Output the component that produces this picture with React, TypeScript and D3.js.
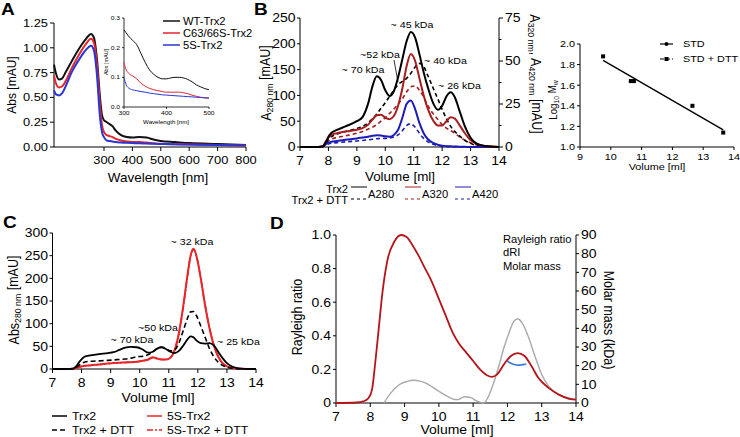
import React from "react";
import * as d3 from "d3";

// ---------- Panel A data ----------
const aWl = [250,252,255,258,262,268,275,282,287,290,293,296,298,300,310,320,330,340,360,380,400,425,450,475,500,550,600,700,800];
const aWT = [0.83,0.74,0.68,0.69,0.76,0.87,0.99,1.09,1.14,1.1,0.88,0.5,0.32,0.27,0.25,0.23,0.21,0.17,0.12,0.1,0.095,0.1,0.095,0.075,0.06,0.05,0.04,0.03,0.02];
const aC63 = [0.72,0.64,0.6,0.61,0.67,0.8,0.93,1.04,1.09,1.05,0.82,0.42,0.22,0.15,0.12,0.11,0.1,0.085,0.065,0.055,0.05,0.05,0.045,0.038,0.032,0.028,0.025,0.02,0.015];
const a5S = [0.57,0.53,0.52,0.54,0.62,0.76,0.88,0.98,1.02,0.97,0.72,0.3,0.15,0.1,0.065,0.06,0.055,0.05,0.045,0.042,0.04,0.037,0.035,0.032,0.03,0.027,0.025,0.02,0.015];
const aYTicks = [0, 0.25, 0.5, 0.75, 1.0, 1.25];
const aXTicks = [300, 400, 500, 600, 700, 800];
const aLegend = ["WT-Trx2", "C63/66S-Trx2", "5S-Trx2"];

const inWl = [300,305,310,320,330,340,350,360,370,380,390,400,410,420,430,440,450,460,470,480,490,500];
const inWT = [0.26,0.25,0.24,0.225,0.21,0.18,0.15,0.125,0.11,0.1,0.095,0.095,0.098,0.1,0.1,0.098,0.093,0.085,0.075,0.068,0.062,0.058];
const inC63 = [0.15,0.125,0.115,0.105,0.095,0.08,0.07,0.063,0.058,0.055,0.052,0.05,0.05,0.05,0.05,0.048,0.045,0.04,0.036,0.033,0.031,0.03];
const in5S = [0.1,0.075,0.065,0.058,0.055,0.052,0.05,0.047,0.045,0.043,0.041,0.04,0.039,0.038,0.037,0.036,0.035,0.034,0.033,0.032,0.031,0.03];
const inYTicks = [0, 0.1, 0.2, 0.3];
const inXTicks = [300, 400, 500];

// ---------- Panel B data ----------
const bVol = [7,7.5,7.8,7.9,8.0,8.1,8.3,8.6,9.0,9.2,9.4,9.55,9.7,9.85,10.0,10.15,10.3,10.45,10.6,10.75,10.9,11.05,11.2,11.35,11.5,11.7,11.85,12.0,12.15,12.3,12.45,12.6,12.8,13.0,13.2,13.5,14];
const bA280 = [0,0,1,8,20,27,33,40,50,58,85,118,137,130,110,99,108,135,170,205,223,212,180,145,115,83,72,80,98,106,96,72,40,18,7,2,0];
const bA280DTT = [0,0,1,6,15,20,25,30,36,40,47,55,64,75,86,98,110,121,127,133,143,155,162,156,138,112,93,73,55,40,30,22,13,7,3,1,0];
const bA320 = [0,0,0.5,3,5.5,7,8,9,10,11,13,16,18.5,18.8,17,16.2,18,24,34,47,54,50,40,30,22,15,12.5,12.5,15,17.3,16.5,13,8,4,2,0.6,0];
const bA320DTT = [0,0,0.3,2,3.5,4.5,5.5,6.5,8,9,10.5,11.5,13,15,17,19.5,22,25,28,32,35,35.5,33,29,24,19,16,13,11,9.5,8,6,4,2.5,1.2,0.4,0];
const bA420 = [0,0,0.3,1.5,2.5,3,3.5,4.2,5,5.5,6,6.5,6.8,6.7,6.2,6,7,10,17,25,27,22,14,8,4.5,2.2,1.3,0.8,0.5,0.4,0.3,0.2,0.1,0,0,0,0];
const bA420DTT = [0,0,0.2,1,1.8,2.2,2.5,3,3.5,3.8,4.2,4.5,4.8,5,5,5.2,5.8,7,9.5,12.5,13.5,11.5,8,5,3,1.5,0.9,0.5,0.3,0.2,0.1,0.1,0,0,0,0,0];
const bXTicks = [7,8,9,10,11,12,13,14];
const bYTicks = [0,50,100,150,200,250];
const bY2Ticks = [0,25,50,75];
const bY2Minor = [12.5,37.5,62.5];
const bAnnot = ["~ 45 kDa", "~52 kDa", "~ 40 kDa", "~ 70 kDa", "~ 26 kDa"];

// ---------- Standard curve ----------
const stdVol = [9.75, 10.65, 10.75, 12.65, 13.65];
const stdLog = [1.88, 1.64, 1.64, 1.40, 1.14];
const stdXTicks = [9,10,11,12,13,14];
const stdYTicks = [1.0,1.2,1.4,1.6,1.8,2.0];

// ---------- Panel C data ----------
const cVol = [7,7.5,7.7,7.8,7.95,8.1,8.3,8.6,8.9,9.1,9.3,9.5,9.7,9.9,10.1,10.3,10.45,10.6,10.75,10.9,11.05,11.2,11.35,11.5,11.65,11.75,11.85,11.95,12.1,12.25,12.4,12.55,12.7,12.85,13.0,13.2,13.5,14];
const cTrx2 = [0,0,1,5,18,27,30,33,35,37,42,47,49,48,43,36,38,45,48,44,38,35,40,52,66,72,70,63,57,56,57,52,38,24,13,5,1,0];
const cTrx2DTT = [0,0,0.5,3,10,15,17,18,19,20,21,22,24,27,28,32,38,45,48,45,40,42,58,85,113,126,127,118,95,70,45,27,15,8,4,1.5,0.3,0];
const c5S = [0,0,0.5,2,5,7,8,10,12,13,14,14.5,15,16,18,21,26,23,21,21,25,42,80,140,210,250,265,250,200,140,90,52,27,13,6,2.5,0.5,0];
const c5SDTT = [0,0,0.5,2,5,7,8,10,12,13,14,14.5,15,16,18,21,25,23,21,21,24,41,78,138,208,249,263,249,200,141,91,53,28,13,6,2.5,0.5,0];
const cXTicks = [7,8,9,10,11,12,13,14];
const cYTicks = [0,50,100,150,200,250,300];
const cLegend = ["Trx2", "Trx2 + DTT", "5S-Trx2", "5S-Trx2 + DTT"];

// ---------- Panel D data ----------
const dVol = [7,7.6,7.8,7.95,8.05,8.15,8.25,8.35,8.5,8.7,8.9,9.05,9.2,9.4,9.6,9.8,10.0,10.2,10.4,10.6,10.8,11.0,11.2,11.4,11.55,11.7,11.9,12.1,12.3,12.5,12.7,12.9,13.2,13.5,13.8,14];
const dRayleigh = [0,0.003,0.01,0.03,0.08,0.25,0.45,0.65,0.85,0.96,1.0,0.99,0.95,0.88,0.8,0.72,0.62,0.52,0.42,0.35,0.3,0.25,0.2,0.165,0.155,0.17,0.23,0.28,0.297,0.28,0.22,0.15,0.09,0.05,0.025,0.02];
const dRIVol = [8.4,8.6,8.85,9.1,9.25,9.45,9.65,9.85,10.0,10.2,10.4,10.55,10.75,10.95,11.1,11.3,11.45,11.6,11.75,11.9,12.05,12.2,12.3,12.45,12.6,12.8,13.0,13.2,13.5,13.8,14];
const dRI = [0,0.06,0.11,0.13,0.135,0.13,0.115,0.09,0.07,0.045,0.025,0.02,0.037,0.03,0.012,0,0.04,0.12,0.22,0.33,0.42,0.49,0.5,0.47,0.4,0.28,0.17,0.1,0.05,0.03,0.02];
const dMMVol = [12.0,12.1,12.2,12.3,12.4,12.5,12.55];
const dMM = [22.5,21.3,20.6,20.3,20.4,20.7,20.9];
const dXTicks = [7,8,9,10,11,12,13,14];
const dYTicks = [0,0.2,0.4,0.6,0.8,1.0];
const dY2Ticks = [0,10,20,30,40,50,60,70,80,90];
const dLegend = ["Rayleigh ratio", "dRI", "Molar mass"];

const FONT = "'Liberation Sans', Arial, Helvetica, sans-serif";
const SX = 1.12;

type TP = { x: number; y: number; rot?: number; size: number; anchor?: string; weight?: string; fill?: string; children?: any; dy?: string; sx?: number };
const T = ({ x, y, rot = 0, size, anchor = "start", weight, fill = "#000", children, dy = "0.35em", sx = SX }: TP) => (
  <text
    transform={`translate(${x},${y}) rotate(${rot}) scale(${rot === 0 ? sx : 1},${rot === 0 ? 1 : sx})`}
    fontSize={size}
    textAnchor={anchor}
    fontWeight={weight}
    fill={fill}
    dy={dy}
    fontFamily={FONT}
  >
    {children}
  </text>
);

const lineGen = (xs: number[], ys: number[], sx: any, sy: any, curve: any = d3.curveMonotoneX) =>
  d3.line<number>().x((_, i) => sx(xs[i])).y((d) => sy(d)).curve(curve)(ys) || "";

function YAxis({ scale, x, ticks, fmt, size, len = 4, side = "left", minor = [] as number[], sw = 1, gap = 2 }: any) {
  const r = scale.range();
  const dir = side === "left" ? -1 : 1;
  return (
    <g>
      <line x1={x} x2={x} y1={r[0]} y2={r[1]} stroke="#000" strokeWidth={sw} />
      {ticks.map((t: number) => (
        <g key={t}>
          <line x1={x} x2={x + dir * len} y1={scale(t)} y2={scale(t)} stroke="#000" strokeWidth={sw} />
          <T x={x + dir * (len + gap)} y={scale(t)} size={size} anchor={side === "left" ? "end" : "start"}>{fmt(t)}</T>
        </g>
      ))}
      {minor.map((t: number) => (
        <line key={"m" + t} x1={x} x2={x + dir * len * 0.6} y1={scale(t)} y2={scale(t)} stroke="#000" strokeWidth={sw} />
      ))}
    </g>
  );
}

function XAxis({ scale, y, ticks, fmt, size, len = 4, x0, x1, sw = 1, gap = 5 }: any) {
  const r = scale.range();
  return (
    <g>
      <line x1={x0 ?? r[0]} x2={x1 ?? r[r.length - 1]} y1={y} y2={y} stroke="#000" strokeWidth={sw} />
      {ticks.map((t: number) => (
        <g key={t}>
          <line x1={scale(t)} x2={scale(t)} y1={y} y2={y + len} stroke="#000" strokeWidth={sw} />
          <T x={scale(t)} y={y + len + gap} size={size} anchor="middle" dy="0.75em">{fmt(t)}</T>
        </g>
      ))}
    </g>
  );
}

export default function App() {
  // Panel A scales
  const ax = d3.scaleLinear().domain([250, 300, 800]).range([54, 104, 246]);
  const ay = d3.scaleLinear().domain([0, 1.25]).range([147, 23]);
  const ix = d3.scaleLinear().domain([300, 500]).range([124, 209]);
  const iy = d3.scaleLinear().domain([0, 0.3]).range([107, 18]);
  const aCols = ["#111111", "#e3262b", "#2a35d6"];

  // Panel B
  const bx = d3.scaleLinear().domain([7, 14]).range([300, 499]);
  const by = d3.scaleLinear().domain([0, 250]).range([147, 18]);
  const by2 = d3.scaleLinear().domain([0, 75]).range([147, 18]);
  const bBlack = "#000000", bRed = "#a81e1e", bBlue = "#1c1cb8";

  // Std curve
  const sx = d3.scaleLinear().domain([9, 14]).range([580, 734]);
  const sy = d3.scaleLinear().domain([1.0, 2.0]).range([147, 44]);
  const mx = d3.mean(stdVol)!, my = d3.mean(stdLog)!;
  const slope = d3.sum(stdVol.map((v, i) => (v - mx) * (stdLog[i] - my))) / d3.sum(stdVol.map((v) => (v - mx) ** 2));
  const fit = (v: number) => my + slope * (v - mx);
  const fx0 = stdVol[0], fx1 = stdVol[stdVol.length - 1];

  // Panel C
  const cx = d3.scaleLinear().domain([7, 14]).range([52.5, 256]);
  const cy = d3.scaleLinear().domain([0, 300]).range([369, 233]);
  const cRed = "#e8262a";

  // Panel D
  const dx = d3.scaleLinear().domain([7, 14]).range([336, 576]);
  const dy = d3.scaleLinear().domain([0, 1]).range([403, 235]);
  const dy2 = d3.scaleLinear().domain([0, 90]).range([403, 235]);

  const f2 = (v: number) => v.toFixed(2);
  const f1 = (v: number) => v.toFixed(1);
  const f0 = (v: number) => String(v);
  const fD = (v: number) => (v === 0 ? "0" : v.toFixed(1));

  const sub = (t: string, size: number) => (
    <tspan fontSize={size * 0.7} dy="0.25em">{t}</tspan>
  );

  return (
    <svg width={740} height={437} style={{ position: "absolute", left: 0, top: 0, background: "#fff" }} fontFamily={FONT}>
      <rect width={740} height={437} fill="#fff" />

      {/* ================= Panel A ================= */}
      <T x={1} y={9} size={17} weight="bold">A</T>
      <YAxis scale={ay} x={54} ticks={aYTicks} fmt={f2} size={11.5} />
      <XAxis scale={ax} y={147} ticks={aXTicks} fmt={f0} size={11.5} x0={54} x1={246} gap={4.5} />
      <T x={11} y={85} rot={-90} size={12} anchor="middle">Abs [mAU]</T>
      <T x={158} y={178} size={12} anchor="middle">Wavelength [nm]</T>
      {[aWT, aC63, a5S].map((s, k) => (
        <path key={k} d={lineGen(aWl, s, ax, ay)} fill="none" stroke={aCols[k]} strokeWidth={2} />
      ))}
      {/* inset */}
      <YAxis scale={iy} x={124} ticks={inYTicks} fmt={f1} size={6} len={2} sw={0.8} />
      <XAxis scale={ix} y={107} ticks={inXTicks} fmt={f0} size={6} len={2} sw={0.8} gap={1} />
      <T x={106} y={62} rot={-90} size={5.5} anchor="middle">Abs [mAU]</T>
      <T x={166} y={122} size={5.5} anchor="middle">Wavelength [nm]</T>
      {[inWT, inC63, in5S].map((s, k) => (
        <path key={k} d={lineGen(inWl, s, ix, iy)} fill="none" stroke={aCols[k]} strokeWidth={1} />
      ))}
      {aLegend.map((l, k) => (
        <g key={l}>
          <line x1={163} x2={180} y1={21 + k * 12} y2={21 + k * 12} stroke={aCols[k]} strokeWidth={1.5} />
          <T x={183} y={21 + k * 12} size={10}>{l}</T>
        </g>
      ))}

      {/* ================= Panel B ================= */}
      <T x={254} y={9} size={17} weight="bold">B</T>
      <YAxis scale={by} x={300} ticks={bYTicks} fmt={f0} size={12.5} len={3} gap={1.5} />
      <YAxis scale={by2} x={499} ticks={bY2Ticks} fmt={f0} size={12.5} side="right" minor={bY2Minor} />
      <XAxis scale={bx} y={147} ticks={bXTicks} fmt={f0} size={12.5} />
      <text transform={`translate(266,83) rotate(-90) scale(1,${SX})`} fontSize={12.5} textAnchor="middle" dy="0.35em">
        A{sub("280 nm", 12.5)}<tspan dy="-0.25em"> [mAU]</tspan>
      </text>
      <text transform={`translate(535,74) rotate(90) scale(1,${SX})`} fontSize={12.5} textAnchor="middle" dy="0.35em">
        A{sub("320 nm", 12.5)}<tspan dy="-0.25em">, A</tspan>{sub("420 nm", 12.5)}<tspan dy="-0.25em"> [mAU]</tspan>
      </text>
      <T x={400} y={177} size={12} anchor="middle">Volume [ml]</T>
      <path d={lineGen(bVol, bA420DTT, bx, by2)} fill="none" stroke={bBlue} strokeWidth={1.6} strokeDasharray="4,3" />
      <path d={lineGen(bVol, bA320DTT, bx, by2)} fill="none" stroke={bRed} strokeWidth={1.6} strokeDasharray="4,3" />
      <path d={lineGen(bVol, bA280DTT, bx, by)} fill="none" stroke={bBlack} strokeWidth={1.6} strokeDasharray="4,3" />
      <path d={lineGen(bVol, bA420, bx, by2)} fill="none" stroke={bBlue} strokeWidth={2} />
      <path d={lineGen(bVol, bA320, bx, by2)} fill="none" stroke={bRed} strokeWidth={2} />
      <path d={lineGen(bVol, bA280, bx, by)} fill="none" stroke={bBlack} strokeWidth={2} />
      <T x={412} y={25} size={9.5} anchor="middle">{bAnnot[0]}</T>
      <T x={380} y={55} size={9.5} anchor="middle">{bAnnot[1]}</T>
      <line x1={394} x2={398} y1={60} y2={82} stroke="#000" strokeWidth={0.8} />
      <T x={424} y={61} size={9.5}>{bAnnot[2]}</T>
      <T x={363} y={70} size={9.5} anchor="middle">{bAnnot[3]}</T>
      <T x={438} y={86} size={9.5}>{bAnnot[4]}</T>
      {/* legend B */}
      <T x={348} y={189} size={10} anchor="end">Trx2</T>
      <T x={348} y={200} size={10} anchor="end">Trx2 + DTT</T>
      {[[351, bBlack, "A280"], [405, bRed, "A320"], [455, bBlue, "A420"]].map(([x, c, l]: any) => (
        <g key={l}>
          <line x1={x} x2={x + 16} y1={187} y2={187} stroke={c} strokeWidth={1} />
          <line x1={x} x2={x + 16} y1={199} y2={199} stroke={c} strokeWidth={1} strokeDasharray="3,3" />
          <T x={x + 17} y={194} size={10}>{l}</T>
        </g>
      ))}

      {/* ================= Std curve ================= */}
      <YAxis scale={sy} x={580} ticks={stdYTicks} fmt={f1} size={9.7} len={3} gap={2} />
      <XAxis scale={sx} y={147} ticks={stdXTicks} fmt={f0} size={9.7} len={3} gap={3} />
      <text transform={`translate(553,100) rotate(-90) scale(1,${SX})`} fontSize={9.7} textAnchor="middle" dy="0.35em">
        Log{sub("10", 9.7)}<tspan dy="-0.25em"> M</tspan>{sub("w", 9.7)}
      </text>
      <T x={657} y={167} size={9.7} anchor="middle">Volume [ml]</T>
      <line x1={sx(fx0)} x2={sx(fx1)} y1={sy(fit(fx0))} y2={sy(fit(fx1))} stroke="#000" strokeWidth={1.4} />
      {stdVol.map((v, i) => (
        <rect key={i} x={sx(v) - 2} y={sy(stdLog[i]) - 2} width={4} height={4} fill="#000" />
      ))}
      <line x1={660} x2={673} y1={44} y2={44} stroke="#000" strokeWidth={1.2} />
      <circle cx={666.5} cy={44} r={2} fill="#000" />
      <T x={683} y={44} size={9.7}>STD</T>
      <line x1={660} x2={673} y1={59} y2={59} stroke="#000" strokeWidth={1.2} strokeDasharray="4,2" />
      <rect x={664.5} y={57} width={4} height={4} fill="#000" />
      <T x={683} y={59} size={9.7}>STD + DTT</T>

      {/* ================= Panel C ================= */}
      <T x={3} y={222} size={17} weight="bold">C</T>
      <YAxis scale={cy} x={52.5} ticks={cYTicks} fmt={f0} size={12.5} len={3} gap={1.5} />
      <XAxis scale={cx} y={369} ticks={cXTicks} fmt={f0} size={12.5} />
      <text transform={`translate(14,300) rotate(-90) scale(1,${SX})`} fontSize={12.5} textAnchor="middle" dy="0.35em">
        Abs{sub("280 nm", 12.5)}<tspan dy="-0.25em"> [mAU]</tspan>
      </text>
      <T x={158} y={398} size={12.5} anchor="middle">Volume [ml]</T>
      <path d={lineGen(cVol, c5SDTT, cx, cy)} fill="none" stroke={cRed} strokeWidth={1.6} strokeDasharray="6,2,2,2" />
      <path d={lineGen(cVol, c5S, cx, cy)} fill="none" stroke={cRed} strokeWidth={2} />
      <path d={lineGen(cVol, cTrx2DTT, cx, cy)} fill="none" stroke="#000" strokeWidth={1.6} strokeDasharray="5,3" />
      <path d={lineGen(cVol, cTrx2, cx, cy)} fill="none" stroke="#000" strokeWidth={1.8} />
      <T x={192} y={242} size={9.5} anchor="middle">~ 32 kDa</T>
      <T x={158} y={328} size={9.5} anchor="middle">~50 kDa</T>
      <T x={132} y={340} size={9.5} anchor="middle">~ 70 kDa</T>
      <T x={217} y={342} size={9.5}>~ 25 kDa</T>
      {cLegend.map((l, k) => {
        const x = k < 2 ? 52 : 147;
        const y = k % 2 === 0 ? 416 : 430;
        const c = k < 2 ? "#000" : cRed;
        const dash = k === 1 ? "5,3" : k === 3 ? "6,2,2,2" : undefined;
        return (
          <g key={l}>
            <line x1={x} x2={x + 15} y1={y} y2={y} stroke={c} strokeWidth={1.5} strokeDasharray={dash} />
            <T x={x + 20} y={y} size={11}>{l}</T>
          </g>
        );
      })}

      {/* ================= Panel D ================= */}
      <T x={270} y={223} size={17} weight="bold">D</T>
      <YAxis scale={dy} x={336} ticks={dYTicks} fmt={fD} size={12.5} len={3} gap={2} />
      <YAxis scale={dy2} x={576} ticks={dY2Ticks} fmt={f0} size={12.5} side="right" len={3} gap={2} />
      <XAxis scale={dx} y={403} ticks={dXTicks} fmt={f0} size={12.5} />
      <T x={297} y={317} rot={-90} size={12.5} anchor="middle">Rayleigh ratio</T>
      <T x={609} y={320} rot={90} size={12.5} anchor="middle">Molar mass (kDa)</T>
      <T x={457} y={430} size={12.5} anchor="middle">Volume [ml]</T>
      <path d={lineGen(dRIVol, dRI, dx, dy)} fill="none" stroke="#a9a9a9" strokeWidth={1.4} />
      <path d={lineGen(dVol, dRayleigh, dx, dy)} fill="none" stroke="#b5141a" strokeWidth={1.8} />
      <path d={lineGen(dMMVol, dMM, dx, dy2)} fill="none" stroke="#3a7bd5" strokeWidth={1.6} />
      {dLegend.map((l, k) => (
        <T key={l} x={503} y={239 + k * 13.5} size={10}>{l}</T>
      ))}
    </svg>
  );
}
